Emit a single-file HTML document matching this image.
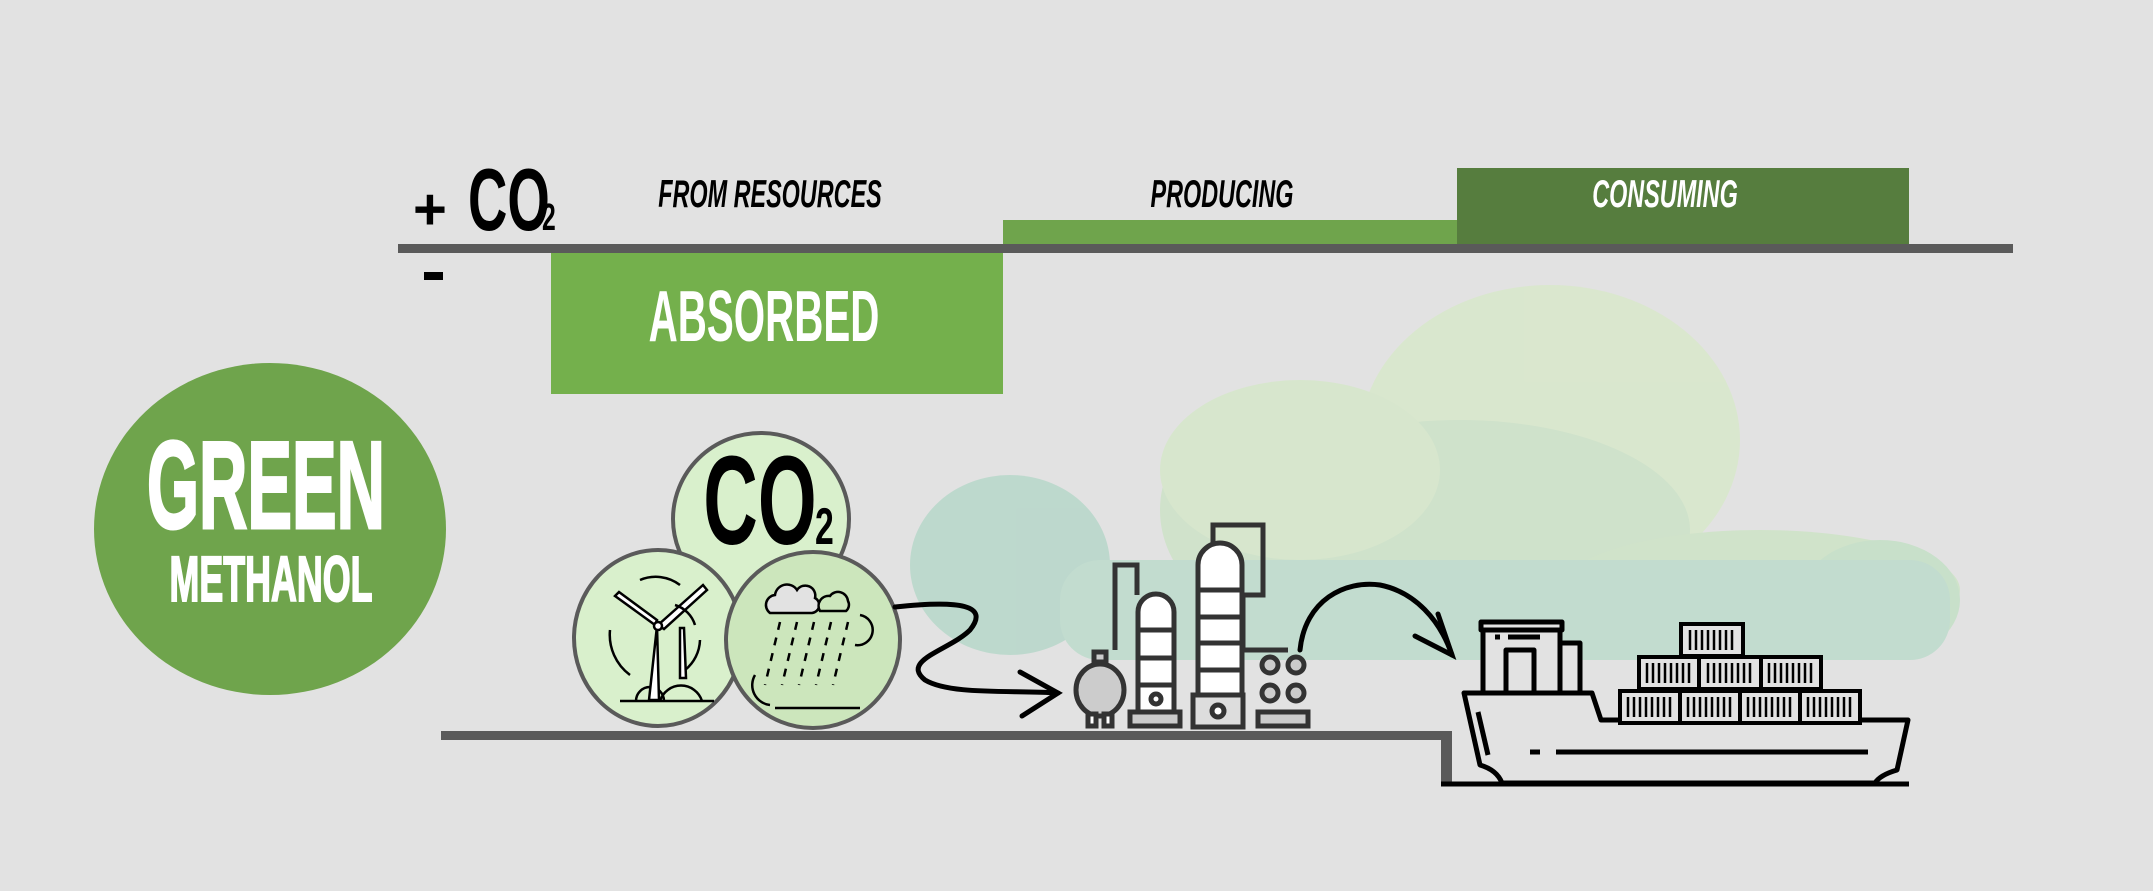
<!DOCTYPE html>
<html><head><meta charset="utf-8"><style>
html,body{margin:0;padding:0;background:#e2e2e2;}
svg{display:block;}
.t{font-family:"Liberation Sans Narrow","Liberation Sans",sans-serif;font-weight:bold;}
</style></head><body>
<svg width="2153" height="891" viewBox="0 0 2153 891" xmlns="http://www.w3.org/2000/svg">
<rect width="2153" height="891" fill="#e2e2e2"/>
<!-- clouds -->
<g opacity="0.9">
<ellipse cx="1010" cy="565" rx="100" ry="90" fill="#b9d8cb"/>
<ellipse cx="1280" cy="510" rx="120" ry="110" fill="#cfe3c9"/>
<ellipse cx="1550" cy="440" rx="190" ry="155" fill="#d9e8cc"/>
<ellipse cx="1460" cy="530" rx="230" ry="110" fill="#cde3c9"/>
<ellipse cx="1760" cy="590" rx="200" ry="60" fill="#cfe4c8"/>
<ellipse cx="1880" cy="600" rx="80" ry="60" fill="#c6e0c8"/>
<rect x="1060" y="560" width="890" height="100" rx="40" fill="#bfdccd"/>
<ellipse cx="1300" cy="470" rx="140" ry="90" fill="#d6e7cb"/>
</g>
<!-- top bars -->
<rect x="1003" y="220" width="454" height="25" fill="#6fa44c"/>
<rect x="1457" y="168" width="452" height="77" fill="#567d3e"/>
<rect x="398" y="244" width="1615" height="9" fill="#5a5a5a"/>
<rect x="551" y="253" width="452" height="141" fill="#74b04c"/>
<text class="t" x="413" y="229" font-size="58" fill="#000">+</text>
<text class="t" x="468" y="230" font-size="88" fill="#000" transform="translate(468 0) scale(0.62 1) translate(-468 0)">CO</text>
<text class="t" x="542" y="230" font-size="38" fill="#000" transform="translate(542 0) scale(0.65 1) translate(-542 0)">2</text>
<rect x="424" y="272" width="19" height="8" fill="#000"/>
<text class="t" x="770" y="207" font-size="39" font-style="italic" fill="#000" text-anchor="middle" transform="translate(770 0) scale(0.6 1) translate(-770 0)">FROM RESOURCES</text>
<text class="t" x="1222" y="207" font-size="39" font-style="italic" fill="#000" text-anchor="middle" transform="translate(1222 0) scale(0.6 1) translate(-1222 0)">PRODUCING</text>
<text class="t" x="1665" y="207" font-size="39" font-style="italic" fill="#fff" text-anchor="middle" transform="translate(1665 0) scale(0.6 1) translate(-1665 0)">CONSUMING</text>
<text class="t" x="764" y="341" font-size="72" fill="#fff" text-anchor="middle" transform="translate(764 0) scale(0.56 1) translate(-764 0)">ABSORBED</text>
<!-- green methanol -->
<ellipse cx="270" cy="529" rx="176" ry="166" fill="#6fa44c"/>
<text class="t" x="266" y="528" font-size="124" fill="#fff" stroke="#fff" stroke-width="3" text-anchor="middle" transform="translate(266 0) scale(0.54 1) translate(-266 0)">GREEN</text>
<text class="t" x="271" y="601" font-size="64" fill="#fff" stroke="#fff" stroke-width="2" text-anchor="middle" transform="translate(271 0) scale(0.56 1) translate(-271 0)">METHANOL</text>
<!-- circles -->
<ellipse cx="761" cy="519" rx="88" ry="86" fill="#d9f0cc" stroke="#5a5a5a" stroke-width="4"/>
<text class="t" x="760" y="544" font-size="126" fill="#000" text-anchor="middle" transform="translate(760 0) scale(0.6 1) translate(-760 0)">CO</text>
<text class="t" x="815" y="544" font-size="52" fill="#000" transform="translate(815 0) scale(0.65 1) translate(-815 0)">2</text>
<ellipse cx="658" cy="638" rx="84" ry="88" fill="#d9f0cc" stroke="#5a5a5a" stroke-width="4"/>
<ellipse cx="813" cy="640" rx="87" ry="88" fill="#cce6bc" stroke="#5a5a5a" stroke-width="4"/>
<!-- wind turbine icon -->
<g stroke="#000" stroke-width="2.5" fill="none">
<line x1="620" y1="701" x2="714" y2="701"/>
<path d="M636 701 a14 14 0 0 1 28 0"/><path d="M660 701 a22 22 0 0 1 42 0"/>
<path d="M657 626 l-8 74 h10 l-2 -74z" fill="#fff"/>
<path d="M655 625 l-40 -29 l4 -4 l38 28z" fill="#fff"/>
<path d="M658 625 l45 -40 l4 5 l-43 39z" fill="#fff"/>
<circle cx="658" cy="626" r="4" fill="#fff"/>
<path d="M680 628 l0 50 l6 0 l-2 -50z" fill="#fff"/>
<path d="M675 605 a30 30 0 0 1 20 20"/><path d="M640 580 a40 40 0 0 1 40 5"/>
<path d="M610 630 a50 50 0 0 0 20 45"/><path d="M700 640 a40 40 0 0 1 -15 30"/>
</g>
<!-- rain icon -->
<g stroke="#000" stroke-width="2.5">
<path d="M770 613 a10 10 0 0 1 5 -18 a12 12 0 0 1 22 -5 a10 10 0 0 1 18 8 a8 8 0 0 1 -3 15z" fill="#e2e2e2"/>
<path d="M820 611 a10 10 0 0 1 10 -15 a10 10 0 0 1 18 5 a8 8 0 0 1 -2 10z" fill="#cce6bc"/>
<g stroke-dasharray="8 8" fill="none">
<line x1="780" y1="622" x2="765" y2="685"/><line x1="797" y1="622" x2="782" y2="685"/>
<line x1="814" y1="622" x2="799" y2="685"/><line x1="831" y1="622" x2="816" y2="685"/>
<line x1="848" y1="622" x2="833" y2="685"/>
</g>
<line x1="775" y1="708" x2="860" y2="708"/>
<path d="M755 675 a20 20 0 0 0 15 30" fill="none"/><path d="M860 615 a15 15 0 0 1 -5 30" fill="none"/>
</g>
<!-- arrows -->
<g stroke="#000" stroke-width="5" fill="none" stroke-linecap="round">
<path d="M895 607 C960 600 990 605 970 630 C950 650 900 660 925 680 C950 695 1010 690 1058 693"/>
<path d="M1020 672 L1058 693 L1022 716"/>
<path d="M1300 650 C1305 600 1345 580 1380 585 C1415 592 1440 620 1452 655"/>
<path d="M1415 636 L1452 655 L1438 614"/>
</g>
<!-- factory -->
<g stroke="#333" stroke-width="5" fill="#fff">
<path d="M1115 650 v-85 h22 v30" fill="none"/>
<path d="M1213 550 v-25 h50 v70 h-20 v55 h45" fill="none"/>
<ellipse cx="1100" cy="690" rx="24" ry="26" fill="#ccc"/>
<rect x="1094" y="652" width="12" height="10" fill="#ccc"/>
<rect x="1088" y="714" width="8" height="12"/><rect x="1104" y="714" width="8" height="12"/>
<path d="M1138 712 v-100 a18 18 0 0 1 36 0 v100z"/>
<line x1="1138" y1="630" x2="1174" y2="630"/><line x1="1138" y1="658" x2="1174" y2="658"/><line x1="1138" y1="685" x2="1174" y2="685"/>
<circle cx="1156" cy="699" r="5"/>
<rect x="1130" y="712" width="50" height="14" fill="#ccc"/>
<path d="M1198 700 v-135 a22 22 0 0 1 44 0 v135z"/>
<line x1="1198" y1="590" x2="1242" y2="590"/><line x1="1198" y1="617" x2="1242" y2="617"/><line x1="1198" y1="643" x2="1242" y2="643"/><line x1="1198" y1="670" x2="1242" y2="670"/>
<rect x="1193" y="695" width="50" height="32" fill="#ddd"/>
<circle cx="1218" cy="711" r="6"/>
<circle cx="1270" cy="665" r="8" fill="#ccc"/><circle cx="1296" cy="665" r="8" fill="#ccc"/>
<circle cx="1270" cy="693" r="8" fill="#ccc"/><circle cx="1296" cy="693" r="8" fill="#ccc"/>
<rect x="1258" y="712" width="50" height="14" fill="#ccc"/>
</g>
<!-- ground lines -->
<rect x="441" y="731" width="1008" height="9" fill="#5a5a5a"/>
<rect x="1441" y="731" width="11" height="54" fill="#5a5a5a"/>
<!-- ship -->
<g stroke="#000" stroke-width="5" fill="#e2e2e2" stroke-linejoin="round">
<path d="M1464 693 H1592 L1601 720 H1908 L1897 770 Q1880 775 1875 783 H1502 Q1497 770 1480 765 Z"/>
<rect x="1483" y="626" width="77" height="67"/>
<rect x="1481" y="622" width="81" height="8"/>
<rect x="1560" y="643" width="20" height="50"/>
<rect x="1506" y="650" width="28" height="43"/>
<line x1="1495" y1="637" x2="1500" y2="637"/><line x1="1508" y1="637" x2="1540" y2="637"/>
<line x1="1530" y1="752" x2="1540" y2="752"/><line x1="1556" y1="752" x2="1868" y2="752"/>
<line x1="1478" y1="712" x2="1488" y2="755"/>
<line x1="1441" y1="784" x2="1909" y2="784"/>
</g>
<g stroke="#000" stroke-width="4" fill="#e2e2e2">
<rect x="1681" y="624" width="62" height="32"/>
<rect x="1639" y="657" width="60" height="32"/><rect x="1699" y="657" width="62" height="32"/><rect x="1761" y="657" width="60" height="32"/>
<rect x="1620" y="691" width="60" height="32"/><rect x="1680" y="691" width="60" height="32"/><rect x="1740" y="691" width="60" height="32"/><rect x="1800" y="691" width="60" height="32"/>
</g>
<g stroke="#000" stroke-width="2.5">
<path d="M1690 630 v20 M1696 630 v20 M1702 630 v20 M1708 630 v20 M1714 630 v20 M1720 630 v20 M1726 630 v20 M1732 630 v20"/>
<path d="M1647 663 v20 M1653 663 v20 M1659 663 v20 M1665 663 v20 M1671 663 v20 M1677 663 v20 M1683 663 v20 M1689 663 v20"/>
<path d="M1708 663 v20 M1714 663 v20 M1720 663 v20 M1726 663 v20 M1732 663 v20 M1738 663 v20 M1744 663 v20 M1750 663 v20"/>
<path d="M1769 663 v20 M1775 663 v20 M1781 663 v20 M1787 663 v20 M1793 663 v20 M1799 663 v20 M1805 663 v20 M1811 663 v20"/>
<path d="M1628 697 v20 M1634 697 v20 M1640 697 v20 M1646 697 v20 M1652 697 v20 M1658 697 v20 M1664 697 v20 M1670 697 v20"/>
<path d="M1688 697 v20 M1694 697 v20 M1700 697 v20 M1706 697 v20 M1712 697 v20 M1718 697 v20 M1724 697 v20 M1730 697 v20"/>
<path d="M1748 697 v20 M1754 697 v20 M1760 697 v20 M1766 697 v20 M1772 697 v20 M1778 697 v20 M1784 697 v20 M1790 697 v20"/>
<path d="M1808 697 v20 M1814 697 v20 M1820 697 v20 M1826 697 v20 M1832 697 v20 M1838 697 v20 M1844 697 v20 M1850 697 v20"/>
</g>
</svg>
</body></html>
